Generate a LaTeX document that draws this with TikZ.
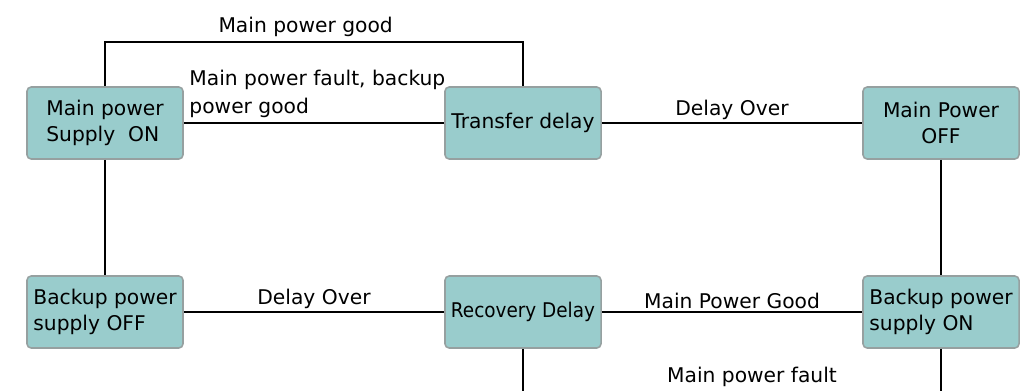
\documentclass[tikz,border=0pt]{standalone}
\usepackage{fontspec}
\setmainfont{DejaVu Sans}
\usepackage{graphicx}
\usepackage{tikz}

\definecolor{boxfill}{RGB}{153,204,204}
\definecolor{boxline}{RGB}{150,160,160}

\begin{document}
\begin{tikzpicture}[x=0.025cm,y=-0.025cm,
	font=\fontsize{14.4}{18.5}\selectfont,
	stbox/.style={draw=boxline,fill=boxfill,line width=1.1pt,rounded corners=3pt,minimum width=3.9cm,minimum height=1.8cm,inner sep=2pt},
	link/.style={line width=1.4pt},
	lbl/.style={above,inner sep=1.5pt}]
	\useasboundingbox (0,0) rectangle (1020,391);
	\coordinate (edge) at (0,391);

	\node[stbox,align=left]   (mon)  at (105, 123) {Main power\\Supply~ ON};
	\node[stbox]              (td)   at (523, 123) {Transfer delay};
	\node[stbox,align=center] (moff) at (941, 123) {Main Power\\OFF};
	\node[stbox,align=left]   (boff) at (105, 312) {Backup power\\supply OFF};
	\node[stbox]              (rd)   at (523, 312) {\scalebox{0.91}[1]{Recovery Delay}};
	\node[stbox,align=left]   (bon)  at (941, 312) {Backup power\\supply ON};

	\draw[link] (mon.north) -- ++(0,-44) -| node[pos=0.24,above]{Main power good} (td.north);
	\draw[link] (mon.east) -- node[pos=0,above right,align=left,font=\fontsize{14.4}{20}\selectfont]{Main power fault, backup\\power good} (td.west);
	\draw[link] (td.east) -- node[lbl]{Delay Over} (moff.west);
	\draw[link] (mon.south) -- (boff.north);
	\draw[link] (moff.south) -- (bon.north);
	\draw[link] (boff.east) -- node[lbl]{Delay Over} (rd.west);
	\draw[link] (rd.east) -- node[lbl]{Main Power Good} (bon.west);
	\draw[link] (rd.south) -- (rd.south |- edge);
	\draw[link] (bon.south) -- (bon.south |- edge);
	\node (mpf) at (752, 377) {Main power fault};

\end{tikzpicture}
\end{document}
